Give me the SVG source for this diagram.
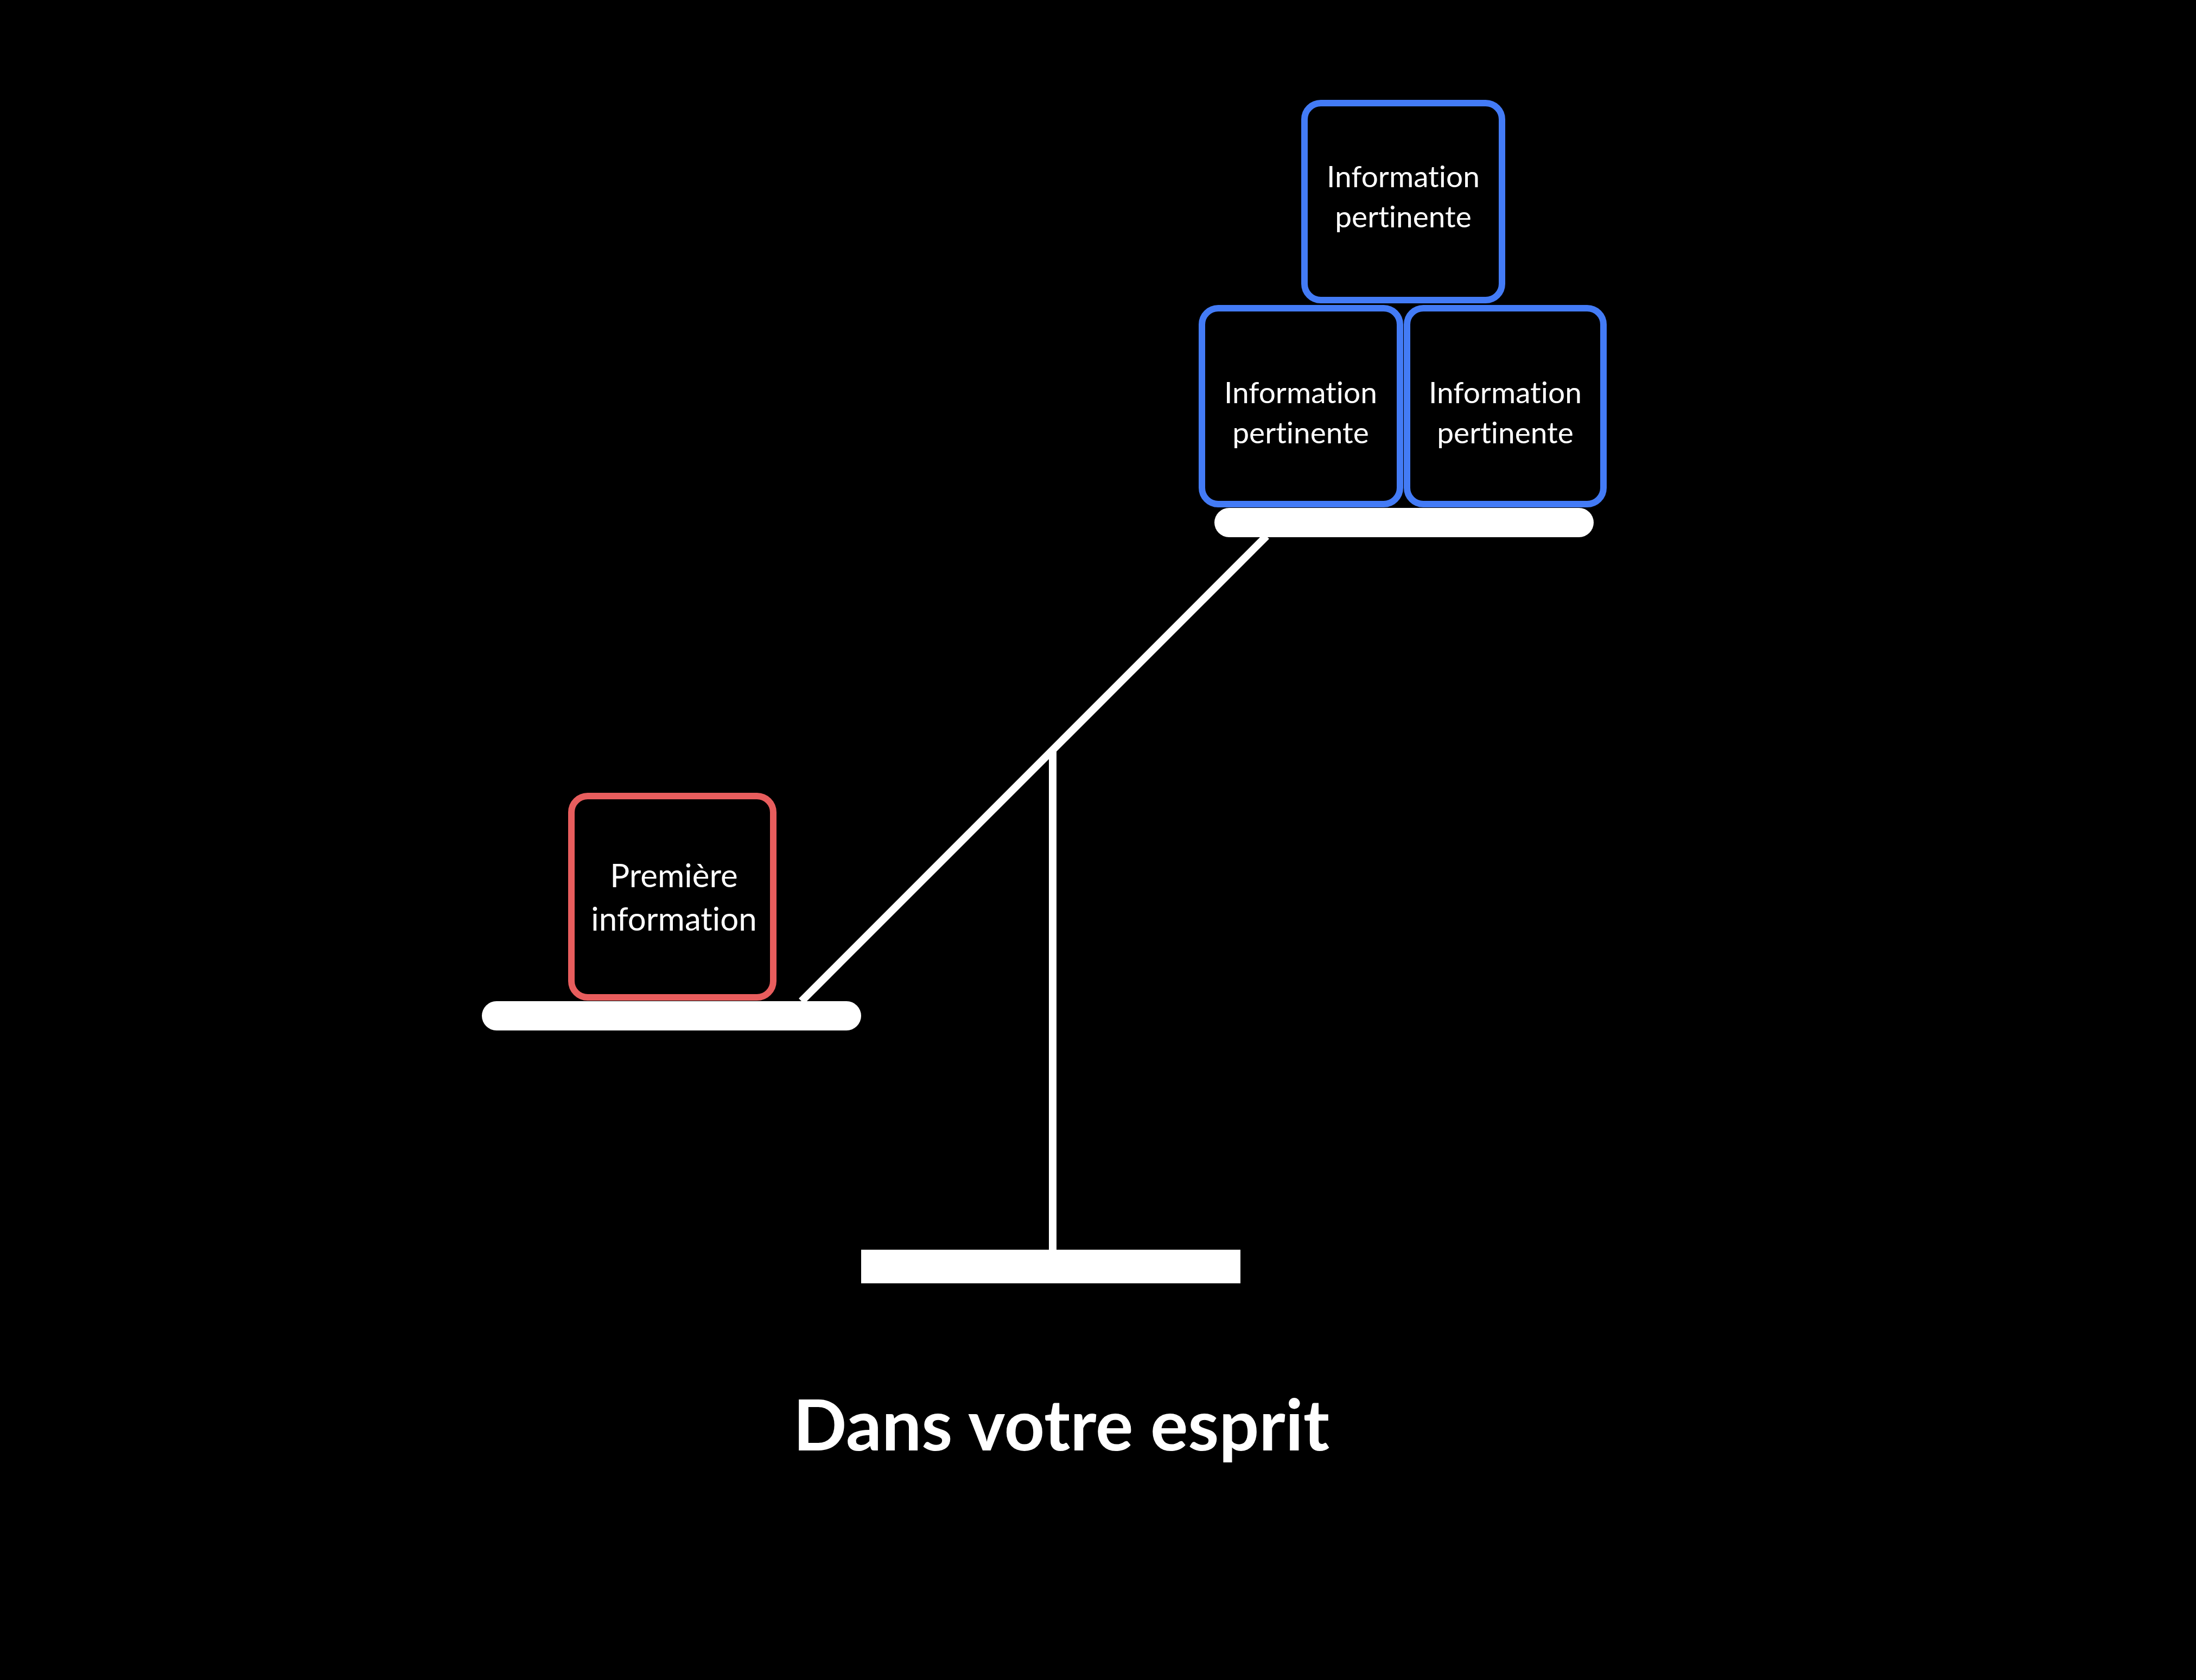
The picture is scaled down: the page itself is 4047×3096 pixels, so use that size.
<svg xmlns="http://www.w3.org/2000/svg" width="4047" height="3096" viewBox="0 0 4047 3096">
<style>
.blue{fill:#000;stroke:#437BF6;stroke-width:12}
.red{fill:#000;stroke:#E85D5D;stroke-width:12}
.lbl{font-family:Lato,"Noto Sans",sans-serif;font-size:55px;fill:#fff;text-anchor:middle;font-variant-ligatures:none}
.title{font-family:Lato,"Noto Sans",sans-serif;font-size:130px;font-weight:700;fill:#fff;text-anchor:middle;font-variant-ligatures:none}
.bar{fill:#fff}
</style>
<rect x="0" y="0" width="4047" height="3096" fill="#000"/>
<g id="connectors">
<line x1="1477" y1="1845" x2="2334" y2="988" stroke="#fff" stroke-width="14"/>
<line x1="1940" y1="1382" x2="1940" y2="2305" stroke="#fff" stroke-width="14"/>
</g>
<g id="base"><rect class="bar" x="1587" y="2303" width="699" height="62"/></g>
<g id="left-plate"><rect class="bar" x="888" y="1845" width="699" height="54" rx="27"/></g>
<g id="right-plate"><rect class="bar" x="2238" y="936" width="699" height="54" rx="27"/></g>
<g id="premiere">
<rect class="red" x="1053" y="1467" width="372" height="371" rx="30"/>
<text class="lbl" x="1242" y="1635" style="font-size:60px">Première</text>
<text class="lbl" x="1242" y="1715" style="font-size:60px">information</text>
</g>
<g id="info-top">
<rect class="blue" x="2404" y="190" width="364" height="363" rx="30"/>
<text class="lbl" x="2586" y="345">Information</text>
<text class="lbl" x="2586" y="419">pertinente</text>
</g>
<g id="info-left">
<rect class="blue" x="2215" y="568" width="365" height="361" rx="30"/>
<text class="lbl" x="2397" y="743">Information</text>
<text class="lbl" x="2397" y="817">pertinente</text>
</g>
<g id="info-right">
<rect class="blue" x="2593" y="568" width="362" height="361" rx="30"/>
<text class="lbl" x="2774" y="743">Information</text>
<text class="lbl" x="2774" y="817">pertinente</text>
</g>
<g id="title">
<text class="title" x="1956" y="2673">Dans votre esprit</text>
</g>
</svg>
